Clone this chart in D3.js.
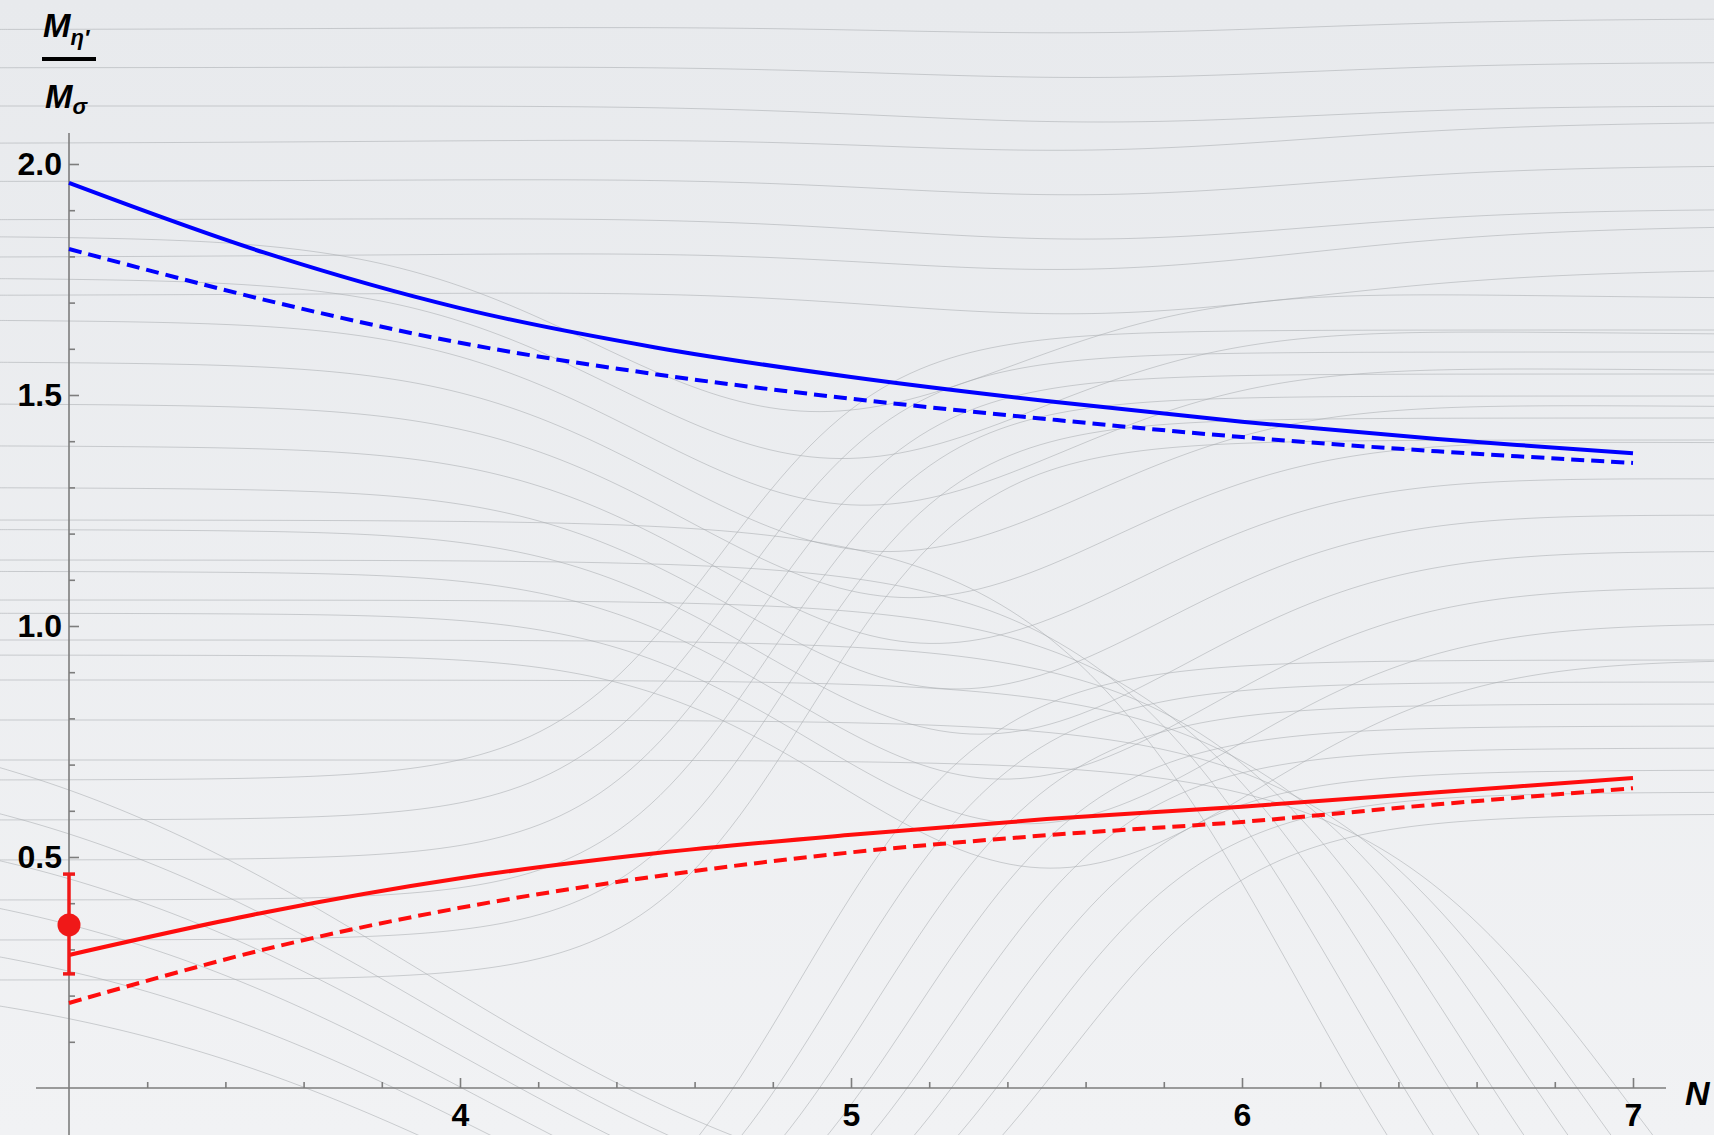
<!DOCTYPE html>
<html lang="en">
<head>
<meta charset="UTF-8">
<title>M_eta' / M_sigma vs N</title>
<script src="https://cdn.jsdelivr.net/npm/d3@7"></script>
<style>
    html, body { margin: 0; padding: 0; }
    body { width: 1714px; height: 1135px; overflow: hidden; font-family: "Liberation Sans", Arial, sans-serif; }
    .axis path, .axis line { stroke: #7d7d7d; stroke-width: 1.6; }
    .axis text { font-family: "Liberation Sans", Arial, sans-serif; font-weight: bold; font-size: 32px; fill: #000; }
</style>
</head>
<body>
<svg id="chart"></svg>
<script>
// data
var nValues      = [3, 3.5, 4, 4.5, 5, 5.5, 6, 6.5, 7];
var blueSolid    = [1.959, 1.808, 1.688, 1.603, 1.539, 1.487, 1.442, 1.405, 1.374];
var blueDashed   = [1.816, 1.706, 1.613, 1.545, 1.492, 1.448, 1.409, 1.378, 1.353];
var redSolid     = [0.288, 0.380, 0.454, 0.508, 0.548, 0.582, 0.609, 0.640, 0.671];
var redDashed    = [0.184, 0.300, 0.390, 0.458, 0.510, 0.547, 0.576, 0.614, 0.649];
var latticePoint = {n: 3, value: 0.353, lo: 0.247, hi: 0.463};

var xMajor = [4, 5, 6, 7];
var yMajor = [0.5, 1.0, 1.5, 2.0];

var w = 1714, h = 1135;

var svg = d3.select('#chart').attr('width', w).attr('height', h);

// background
var defs = svg.append('defs');
var grad = defs.append('linearGradient').attr('id', 'bg').attr('x1', 0).attr('y1', 0).attr('x2', 0).attr('y2', 1);
grad.append('stop').attr('offset', '0%').attr('stop-color', '#e8eaed');
grad.append('stop').attr('offset', '100%').attr('stop-color', '#f1f2f4');
svg.append('rect').attr('width', w).attr('height', h).attr('fill', 'url(#bg)');

// decorative wavy background lines (slide texture, not data)
function waveFamily(count, f) {
    var out = [];
    for (var i = 0; i < count; i++) out.push(f(i));
    return out;
}
var waves = [].concat(
    waveFamily(8,  function(i){ return {a: 30 + i*38,  b: 18 + i*34 + (i%3)*10, c: 950 + i*30, k: 320, d: 10 + i*3, e: 1100, s: 300}; }),
    waveFamily(11, function(i){ return {a: 235 + i*42, b: 300 + i*36, c: 900,  k: 250, d: 150 + i*6, e: 800 + i*25, s: 300}; }),
    waveFamily(6,  function(i){ return {a: 780 + i*40, b: 330 + i*22, c: 720 + i*18, k: 85, d: 0, e: 0, s: 1}; }),
    waveFamily(8,  function(i){ return {a: 1300,       b: 660 + i*22, c: 800 + i*38, k: 95, d: 0, e: 0, s: 1}; }),
    waveFamily(7,  function(i){ return {a: 520 + i*40, b: 1450, c: 1300 + i*55, k: 130, d: 0, e: 0, s: 1}; }),
    waveFamily(6,  function(i){ return {a: 690 + i*55, b: 1250 + i*30, c: 420 + i*20, k: 230, d: 0, e: 0, s: 1}; })
);
function waveY(x, p) {
    var t = 1 / (1 + Math.exp(-(x - p.c) / p.k));
    return p.a + (p.b - p.a) * t + p.d * Math.exp(-Math.pow((x - p.e) / p.s, 2));
}
var xs = d3.range(0, w + 10, 10);
var waveLine = d3.line().curve(d3.curveBasis);
svg.append('g').selectAll('path')
    .data(waves)
    .enter().append('path')
    .attr('d', function(p){ return waveLine(xs.map(function(x){ return [x, waveY(x, p)]; })); })
    .attr('fill', 'none')
    .attr('stroke', '#a9acb0')
    .attr('stroke-width', 0.8)
    .attr('opacity', 0.7);

// scales
var x = d3.scaleLinear().domain([3, 7]).range([69, 1633]);
var y = d3.scaleLinear().domain([0, 2]).range([1088, 164]);

// axes lines
svg.append('line').attr('x1', 36).attr('x2', 1666).attr('y1', y(0)).attr('y2', y(0))
    .attr('stroke', '#7d7d7d').attr('stroke-width', 1.6);
svg.append('line').attr('x1', x(3)).attr('x2', x(3)).attr('y1', 133).attr('y2', h)
    .attr('stroke', '#7d7d7d').attr('stroke-width', 1.6);

// y ticks
var yMinor = d3.range(1, 21).map(function(d){ return d/10; }).filter(function(d){ return Math.round(d*10) % 5 !== 0; });
svg.append('g').attr('class', 'axis').attr('transform', 'translate(' + x(3) + ',0)')
    .call(d3.axisLeft(y).tickValues(yMajor).tickFormat(d3.format('.1f')).tickSizeInner(-10).tickSizeOuter(0).tickPadding(7))
    .call(function(g){ g.select('.domain').remove(); });
svg.append('g').attr('class', 'axis').attr('transform', 'translate(' + x(3) + ',0)')
    .call(d3.axisLeft(y).tickValues(yMinor).tickFormat('').tickSizeInner(-6).tickSizeOuter(0))
    .call(function(g){ g.select('.domain').remove(); });

// x ticks
var xMinor = d3.range(16, 36).map(function(d){ return d/5; }).filter(function(d){ return Math.abs(d - Math.round(d)) > 1e-6; });
svg.append('g').attr('class', 'axis').attr('transform', 'translate(0,' + y(0) + ')')
    .call(d3.axisBottom(x).tickValues(xMajor).tickFormat(d3.format('d')).tickSizeInner(-10).tickSizeOuter(0).tickPadding(15))
    .call(function(g){ g.select('.domain').remove(); });
svg.append('g').attr('class', 'axis').attr('transform', 'translate(0,' + y(0) + ')')
    .call(d3.axisBottom(x).tickValues(xMinor).tickFormat('').tickSizeInner(-6).tickSizeOuter(0))
    .call(function(g){ g.select('.domain').remove(); });

// axis labels
svg.append('text').attr('x', 1685).attr('y', 1105)
    .attr('font-family', '"Liberation Sans", Arial, sans-serif')
    .attr('font-size', 34).attr('font-weight', 'bold').attr('font-style', 'italic')
    .text('N');

var yl = svg.append('g').attr('font-family', '"Liberation Sans", Arial, sans-serif')
    .attr('font-weight', 'bold').attr('font-style', 'italic');
var num = yl.append('text').attr('x', 43).attr('y', 37).attr('font-size', 33);
num.append('tspan').text('M');
num.append('tspan').attr('font-size', 22).attr('dy', 8).text('η′');
yl.append('line').attr('x1', 42).attr('x2', 96).attr('y1', 59).attr('y2', 59)
    .attr('stroke', '#000').attr('stroke-width', 4);
var den = yl.append('text').attr('x', 45).attr('y', 108).attr('font-size', 33);
den.append('tspan').text('M');
den.append('tspan').attr('font-size', 22).attr('dy', 6).text('σ');

// curves
var line = d3.line()
    .x(function(d){ return x(d[0]); })
    .y(function(d){ return y(d[1]); })
    .curve(d3.curveCatmullRom.alpha(0.5));

var series = [
    {vals: blueSolid,  color: '#0000ff', dash: null},
    {vals: blueDashed, color: '#0000ff', dash: '13,7'},
    {vals: redSolid,   color: '#ff0d0d', dash: null},
    {vals: redDashed,  color: '#ff0d0d', dash: '13,7'}
];
svg.append('g').selectAll('path')
    .data(series)
    .enter().append('path')
    .attr('d', function(s){ return line(nValues.map(function(n, i){ return [n, s.vals[i]]; })); })
    .attr('fill', 'none')
    .attr('stroke', function(s){ return s.color; })
    .attr('stroke-width', 4)
    .attr('stroke-dasharray', function(s){ return s.dash; });

// lattice point with error bar
var eb = svg.append('g').attr('stroke', '#f01818').attr('fill', '#f01818');
eb.append('line').attr('x1', x(latticePoint.n)).attr('x2', x(latticePoint.n))
    .attr('y1', y(latticePoint.hi)).attr('y2', y(latticePoint.lo)).attr('stroke-width', 3.5);
[latticePoint.hi, latticePoint.lo].forEach(function(v){
    eb.append('line').attr('x1', x(latticePoint.n) - 6).attr('x2', x(latticePoint.n) + 6)
        .attr('y1', y(v)).attr('y2', y(v)).attr('stroke-width', 3.5);
});
eb.append('circle').attr('cx', x(latticePoint.n)).attr('cy', y(latticePoint.value)).attr('r', 11.5).attr('stroke', 'none');
</script>
</body>
</html>
